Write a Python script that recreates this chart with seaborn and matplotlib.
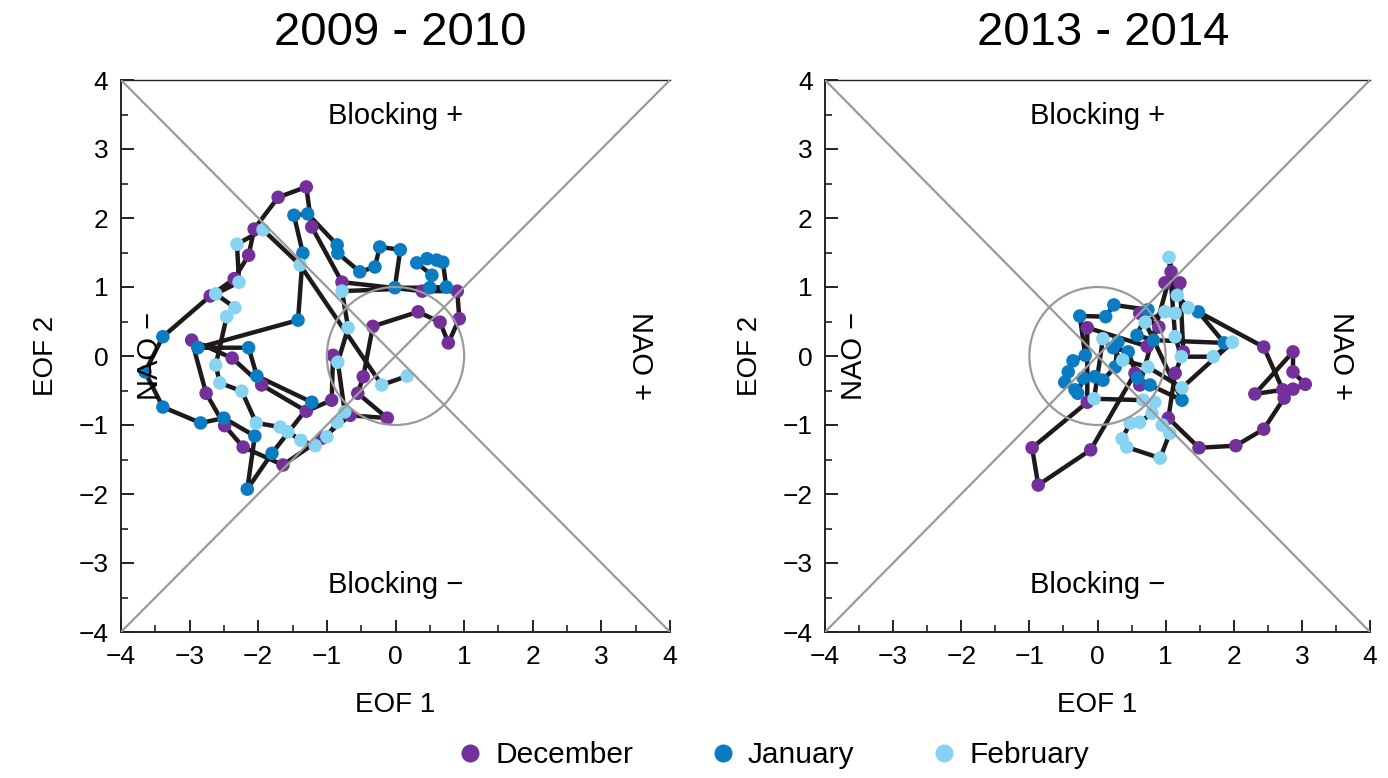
import matplotlib
matplotlib.use("Agg")
import matplotlib.pyplot as plt
import seaborn as sns
import pandas as pd
from matplotlib.lines import Line2D
from matplotlib.patches import Circle
from matplotlib.ticker import MultipleLocator

sns.set_theme(style="ticks")
plt.rcParams["font.family"] = ["Liberation Sans", "DejaVu Sans"]
plt.rcParams["text.color"] = "black"
plt.rcParams["axes.labelcolor"] = "black"
plt.rcParams["xtick.color"] = "black"
plt.rcParams["ytick.color"] = "black"

# ---- daily (EOF 1, EOF 2) trajectories, in time order, per month ----
months = ["December", "January", "February"]
month_colors = ["#74309a", "#0a7cc4", "#86d3f2"]

# winter 2009 - 2010
dec_2009_eof1 = [-0.91, -0.93, -1.30, -1.95, -2.38, -2.97, -2.76, -2.49, -2.22, -1.64, -1.07,
                 -0.66, -0.12, -0.55, -0.47, -0.33, 0.33, 0.65, 0.77, 0.93, 0.90, 0.39,
                 -0.78, -1.22, -1.30, -1.71, -2.06, -2.14, -2.35, -2.70]
dec_2009_eof2 = [0.01, -0.64, -0.80, -0.42, -0.03, 0.23, -0.54, -1.01, -1.32, -1.58, -1.19,
                 -0.86, -0.90, -0.54, -0.30, 0.43, 0.64, 0.49, 0.19, 0.54, 0.94, 0.94,
                 1.07, 1.87, 2.45, 2.30, 1.84, 1.46, 1.12, 0.87]
jan_2010_eof1 = [-3.39, -3.65, -3.39, -2.84, -2.50, -2.05, -2.16, -1.80, -1.22, -2.02, -2.14,
                 -2.88, -1.42, -1.35, -1.48, -1.28, -0.85, -0.84, -0.52, -0.30, -0.23, 0.07,
                 -0.01, 0.50, 0.53, 0.31, 0.46, 0.60, 0.69, 0.74]
jan_2010_eof2 = [0.28, -0.23, -0.74, -0.97, -0.90, -1.16, -1.93, -1.41, -0.67, -0.29, 0.12,
                 0.12, 0.52, 1.49, 2.04, 2.06, 1.61, 1.49, 1.22, 1.29, 1.58, 1.54,
                 0.99, 0.99, 1.17, 1.35, 1.41, 1.39, 1.36, 1.00]
feb_2010_eof1 = [-0.78, -0.69, -0.84, -0.74, -0.85, -1.00, -1.17, -1.38, -1.57, -1.68, -2.03,
                 -2.24, -2.56, -2.62, -2.46, -2.34, -2.62, -2.28, -2.31, -1.93, -1.39, -0.20, 0.17]
feb_2010_eof2 = [0.94, 0.41, -0.09, -0.81, -0.96, -1.17, -1.30, -1.22, -1.10, -1.03, -0.97,
                 -0.51, -0.39, -0.13, 0.57, 0.70, 0.90, 1.07, 1.62, 1.83, 1.32, -0.42, -0.29]

# winter 2013 - 2014
dec_2013_eof1 = [0.62, 0.90, 0.73, -0.15, -0.15, -0.96, -0.87, -0.10, 0.55, 0.62, 1.08,
                 0.99, 1.21, 1.26, 1.14, 1.04, 1.49, 2.03, 2.44, 2.74, 2.87, 3.05,
                 2.87, 2.87, 2.31, 2.72, 2.44]
dec_2013_eof2 = [0.62, 0.42, 0.14, 0.41, -0.67, -1.33, -1.87, -1.36, -0.25, -0.42, 1.22,
                 1.06, 1.06, 0.06, -0.25, -0.90, -1.33, -1.30, -1.06, -0.61, -0.48, -0.41,
                 -0.23, 0.06, -0.55, -0.49, 0.13]
jan_2014_eof1 = [1.48, 1.86, 0.82, 0.58, 0.74, 0.24, 0.12, -0.26, -0.18, -0.36, -0.43,
                 -0.48, -0.33, -0.29, -0.21, -0.04, 0.08, 0.26, 0.30, 0.23, 0.45, 0.59,
                 0.77, 1.24]
jan_2014_eof2 = [0.64, 0.19, 0.23, 0.30, 0.67, 0.74, 0.57, 0.58, 0.01, -0.07, -0.23,
                 -0.38, -0.49, -0.54, -0.32, -0.30, -0.35, -0.16, 0.20, 0.12, 0.06, -0.32,
                 -0.42, -0.64]
feb_2014_eof1 = [0.70, 0.99, 1.14, 1.33, 1.17, 1.05, 1.14, 1.23, 1.70, 1.98, 1.24,
                 0.74, 0.37, 0.08, -0.05, 0.67, 0.84, 0.80, 0.62, 0.48, 0.36, 0.43,
                 0.92, 1.06, 0.95]
feb_2014_eof2 = [0.49, 0.64, 0.62, 0.70, 0.88, 1.43, 0.28, -0.01, -0.01, 0.20, -0.46,
                 -0.16, -0.06, 0.25, -0.62, -0.64, -0.67, -0.83, -0.96, -0.97, -1.20, -1.32,
                 -1.48, -1.12, -1.00]

season_titles = ["2009 - 2010", "2013 - 2014"]


def season_frame(parts):
    frames = []
    for month, (x, y) in zip(months, parts):
        frames.append(pd.DataFrame({"EOF 1": x, "EOF 2": y, "month": month}))
    return pd.concat(frames, ignore_index=True)


seasons = [
    season_frame([(dec_2009_eof1, dec_2009_eof2), (jan_2010_eof1, jan_2010_eof2),
                  (feb_2010_eof1, feb_2010_eof2)]),
    season_frame([(dec_2013_eof1, dec_2013_eof2), (jan_2014_eof1, jan_2014_eof2),
                  (feb_2014_eof1, feb_2014_eof2)]),
]

W, H = 1388, 778
fig = plt.figure(figsize=(W / 100, H / 100), dpi=100)
fig.patch.set_facecolor("white")

panel_px = [(121, 670), (825, 1370)]
title_x = [400, 1103]
guide = "#9a9a9a"
palette = dict(zip(months, month_colors))

for df, (x0, x1), title, tx in zip(seasons, panel_px, season_titles, title_x):
    ax = fig.add_axes([x0 / W, (H - 632) / H, (x1 - x0) / W, 552 / H])
    ax.set_facecolor("white")

    sns.lineplot(data=df, x="EOF 1", y="EOF 2", sort=False, estimator=None,
                 color="#1e1a1b", linewidth=3.2, ax=ax, zorder=2)
    sns.scatterplot(data=df, x="EOF 1", y="EOF 2", hue="month", hue_order=months,
                    palette=palette, s=95, linewidth=0, legend=False, ax=ax, zorder=3)

    # regime guides: diagonals and unit circle
    ax.plot([-4, 4], [-4, 4], color=guide, lw=1.6, zorder=4)
    ax.plot([-4, 4], [4, -4], color=guide, lw=1.6, zorder=4)
    ax.add_patch(Circle((0, 0), 1, fill=False, edgecolor=guide, lw=1.6, zorder=4))

    ax.text(0, 3.48, "Blocking +", ha="center", va="center", fontsize=21)
    ax.text(0, -3.32, "Blocking \u2212", ha="center", va="center", fontsize=21)
    ax.text(-3.58, 0, "NAO \u2212", ha="center", va="center", rotation=90, fontsize=21)
    ax.text(3.57, 0, "NAO +", ha="center", va="center", rotation=-90, fontsize=21)

    ax.set_xlim(-4, 4)
    ax.set_ylim(-4, 4)
    ax.xaxis.set_major_locator(MultipleLocator(1))
    ax.yaxis.set_major_locator(MultipleLocator(1))
    ax.xaxis.set_minor_locator(MultipleLocator(0.5))
    ax.yaxis.set_minor_locator(MultipleLocator(0.5))
    ax.tick_params(which="major", direction="in", length=9, width=1.4,
                   labelsize=19, pad=9, color="#222222")
    ax.tick_params(which="minor", direction="in", length=5, width=1.2, color="#222222")
    ax.tick_params(top=False, right=False, which="both")

    ax.spines["right"].set_visible(False)
    for side in ["left", "bottom", "top"]:
        ax.spines[side].set_color("#222222")
        ax.spines[side].set_linewidth(1.4)
    ax.spines["top"].set_linewidth(1.0)

    ax.set_xlabel("EOF 1", fontsize=20, labelpad=17)
    ax.set_ylabel("EOF 2", fontsize=20, labelpad=14)
    ax.grid(False)

    fig.text(tx / W, 1 - 33 / H, title, ha="center", va="center", fontsize=34)

handles = [Line2D([], [], marker="o", linestyle="none", markersize=13,
                  markerfacecolor=c, markeredgewidth=0) for c in month_colors]
fig.legend(handles, months, loc="center", bbox_to_anchor=(772 / W, 1 - 755 / H),
           ncol=3, frameon=False, fontsize=21.5, handletextpad=0.35,
           columnspacing=2.5, handlelength=1.0)

fig.savefig("out.png", dpi=100, facecolor="white")
